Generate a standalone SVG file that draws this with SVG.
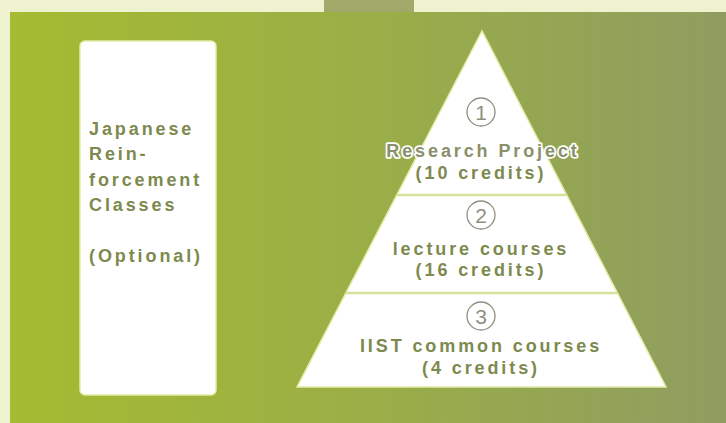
<svg xmlns="http://www.w3.org/2000/svg" width="726" height="423" viewBox="0 0 726 423">
<defs>
<linearGradient id="bg" x1="0" y1="0" x2="1" y2="0">
<stop offset="0" stop-color="#a5bb31"/>
<stop offset="0.5" stop-color="#9aae47"/>
<stop offset="1" stop-color="#8f9d60"/>
</linearGradient>
<style>
.t{font-family:"Liberation Sans",Arial,sans-serif;font-size:18px;font-weight:bold;fill:#7d8a4e;letter-spacing:2.9px}
.c{text-anchor:middle}
.h{stroke:#ffffff;stroke-width:3.5px;paint-order:stroke;stroke-linejoin:round;fill:#8a8f6c}
.num{font-family:"Liberation Sans",Arial,sans-serif;font-size:21px;fill:#8e9080;text-anchor:middle}
.ring{fill:none;stroke:#8e9080;stroke-width:1.3}
.div{stroke:#d5e29a;stroke-width:2.5}
</style>
</defs>
<rect x="0" y="0" width="726" height="423" fill="#eef2cf"/>
<rect x="324" y="0" width="90" height="12" fill="#a0a86a"/>
<rect x="10" y="12" width="716" height="411" fill="url(#bg)"/>
<g id="japanese">
<rect x="80" y="41" width="136" height="354" rx="5" fill="#ffffff" stroke="#e4eca8" stroke-width="1.5"/>
<text class="t" x="89" y="135" letter-spacing="3.2">Japanese</text>
<text class="t" x="89" y="160" letter-spacing="3.2">Rein-</text>
<text class="t" x="89" y="186" letter-spacing="2">forcement</text>
<text class="t" x="89" y="211" letter-spacing="3.2">Classes</text>
<text class="t" x="89" y="262" letter-spacing="2">(Optional)</text>
</g>
<g id="pyramid">
<polygon points="482,31 297,387 666,387" fill="#ffffff" stroke="#e4eca8" stroke-width="1.5"/>
</g>
<g id="connectors">
<line class="div" x1="397" y1="195" x2="567" y2="195"/>
<line class="div" x1="346" y1="293" x2="617" y2="293"/>
</g>
<g id="level1">
<circle class="ring" cx="481" cy="112" r="14"/>
<text class="num" x="481" y="120">1</text>
<text class="t c h" x="483" y="157" letter-spacing="1.8">Research Project</text>
<text class="t c" x="481" y="179">(10 credits)</text>
</g>
<g id="level2">
<circle class="ring" cx="481" cy="215" r="14"/>
<text class="num" x="481" y="223">2</text>
<text class="t c" x="481" y="255">lecture courses</text>
<text class="t c" x="481" y="276">(16 credits)</text>
</g>
<g id="level3">
<circle class="ring" cx="481" cy="316" r="14"/>
<text class="num" x="481" y="324">3</text>
<text class="t c" x="481" y="352">IIST common courses</text>
<text class="t c" x="481" y="374">(4 credits)</text>
</g>
</svg>
